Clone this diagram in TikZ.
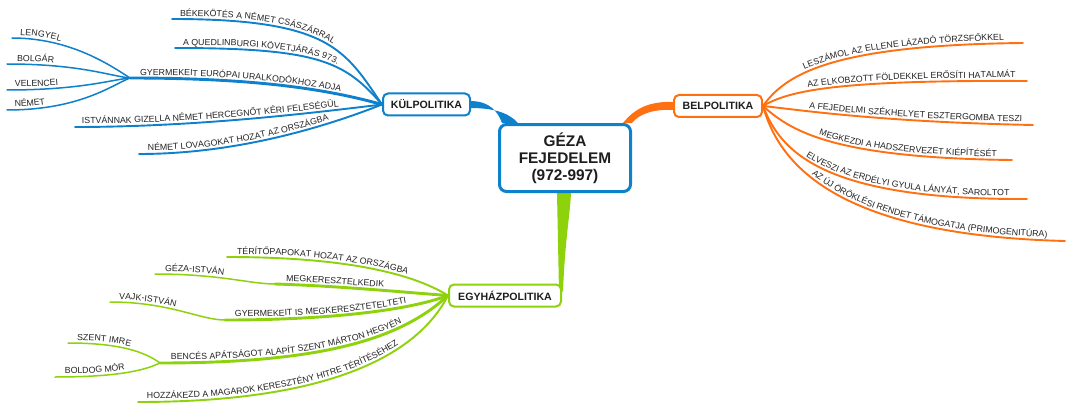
\documentclass[tikz,border=0pt]{standalone}
\usepackage{fontspec}
\setmainfont{Liberation Sans}
\usetikzlibrary{decorations.text,calc,backgrounds}
\definecolor{kblue}{RGB}{14,128,204}
\definecolor{korange}{RGB}{255,112,16}
\definecolor{kgreen}{RGB}{142,210,12}
\definecolor{ktext}{RGB}{30,30,30}
\definecolor{kbtext}{RGB}{35,35,35}
\newcommand\bt{\fontsize{8.8}{10}\selectfont\color{kbtext}}
\tikzset{
  topicbox/.style={draw=#1, line width=2pt, rounded corners=5pt, fill=white, text=ktext,
    font=\fontsize{10.6}{12}\selectfont\bfseries, minimum height=22pt, inner sep=0pt},
  brmain/.style={draw=#1, line width=1.9pt, line cap=round},
  brpar/.style={draw=#1, line width=2.9pt, line cap=round},
  brsub/.style={draw=#1, line width=1.5pt, line cap=round},
  lbl/.style 2 args={postaction={decorate, decoration={text along path, text={|\bt|#2},
    text align={left indent=#1}, raise=3pt}}},
}
\begin{document}
\begin{tikzpicture}[x=1pt,y=-1pt]
\useasboundingbox (0,0) rectangle (1072,412);
% nodes
\node[draw=kblue, line width=3pt, rounded corners=7pt, fill=white, text=ktext,
  font=\fontsize{15.4}{17}\selectfont\bfseries, align=center,
  minimum width=131pt, minimum height=67pt, inner sep=0pt] (geza) at (565,158) {GÉZA\\FEJEDELEM\\(972-997)};
\node[topicbox=kblue, minimum width=87pt] (kul) at (426.5,104.5) {KÜLPOLITIKA};
\node[topicbox=korange, minimum width=88pt] (bel) at (718,106) {BELPOLITIKA};
\node[topicbox=kgreen, minimum width=112pt] (egy) at (505,295.5) {EGYHÁZPOLITIKA};
% free ends
\coordinate (k1) at (172,19);
\coordinate (k2) at (175,48);
\coordinate (k3) at (130,78);
\coordinate (k4) at (75,127);
\coordinate (k5) at (139,154);
\coordinate (k31) at (12,38);
\coordinate (k32) at (7,64);
\coordinate (k33) at (7,90);
\coordinate (k34) at (7,110);
\coordinate (b1) at (1023,43);
\coordinate (b2) at (1027,81);
\coordinate (b3) at (1033,125);
\coordinate (b4) at (1012,160);
\coordinate (b5) at (1027,199);
\coordinate (b6) at (1065,241);
\coordinate (e1) at (227,257);
\coordinate (e2) at (275,284);
\coordinate (e21) at (155,274);
\coordinate (e3) at (225,320);
\coordinate (e31) at (110,302);
\coordinate (e4) at (160,363);
\coordinate (e41) at (68,343);
\coordinate (e42) at (55,377);
\coordinate (e5) at (138,402);
\begin{scope}[on background layer]
\fill[white] (0,0) rectangle (1072,412);
% tapered main connectors
\fill[kblue] ($(kul.east)+(-1,-3.5)$) .. controls (490,101) and (498,112) .. ($(geza.north west)+(4,0)$)
  -- ($(geza.north west)+(20,0)$) .. controls (508,112) and (492,108) .. ($(kul.east)+(-1,3.5)$) -- cycle;
\fill[korange] ($(geza.north east)+(-9,0)$) .. controls (635,108) and (650,101) .. ($(bel.west)+(1,-4)$)
  -- ($(bel.west)+(1,4)$) .. controls (655,109) and (640,113) .. ($(geza.north east)+(0,0)$) -- cycle;
\fill[kgreen] ($(geza.south)+(-8,0)$) -- ($(egy.north east)+(-3,8)$) -- ($(egy.north east)+(1,8)$)
  .. controls (565,240) and (570,215) .. ($(geza.south)+(6,0)$) -- cycle;
% KÜLPOLITIKA branches
\draw[brmain=kblue, lbl={8pt}{BÉKEKÖTÉS A NÉMET CSÁSZÁRRAL}] (k1) .. controls (330,19) and (345,50) .. (kul.west);
\draw[brmain=kblue, lbl={8pt}{A QUEDLINBURGI KÖVETJÁRÁS 973.}] (k2) .. controls (320,48) and (345,62) .. (kul.west);
\draw[brpar=kblue, lbl={10pt}{GYERMEKEIT EURÓPAI URALKODÓKHOZ ADJA}] (k3) .. controls (260,78) and (330,90) .. (kul.west);
\draw[brmain=kblue, lbl={7pt}{ISTVÁNNAK GIZELLA NÉMET HERCEGNŐT KÉRI FELESÉGÜL}] (k4) .. controls (200,127) and (320,112) .. (kul.west);
\draw[brmain=kblue, lbl={9pt}{NÉMET LOVAGOKAT HOZAT AZ ORSZÁGBA}] (k5) .. controls (240,154) and (330,125) .. (kul.west);
\draw[brsub=kblue, lbl={8pt}{LENGYEL}] (k31) .. controls (70,38) and (110,65) .. (k3);
\draw[brsub=kblue, lbl={10pt}{BOLGÁR}] (k32) .. controls (80,64) and (110,76) .. (k3);
\draw[brsub=kblue, lbl={8pt}{VELENCEI}] (k33) .. controls (80,90) and (110,80) .. (k3);
\draw[brsub=kblue, lbl={8pt}{NÉMET}] (k34) .. controls (80,110) and (112,85) .. (k3);
% BELPOLITIKA branches
\draw[brmain=korange, lbl={55pt}{LESZÁMOL AZ ELLENE LÁZADÓ TÖRZSFŐKKEL}] (bel.east) .. controls (785,75) and (830,45) .. (b1);
\draw[brmain=korange, lbl={48pt}{AZ ELKOBZOTT FÖLDEKKEL ERŐSÍTI HATALMÁT}] (bel.east) .. controls (790,90) and (840,80) .. (b2);
\draw[brmain=korange, lbl={46pt}{A FEJEDELMI SZÉKHELYET ESZTERGOMBA TESZI}] (bel.east) .. controls (800,110) and (880,122) .. (b3);
\draw[brmain=korange, lbl={64pt}{MEGKEZDI A HADSZERVEZET KIÉPÍTÉSÉT}] (bel.east) .. controls (790,130) and (830,158) .. (b4);
\draw[brmain=korange, lbl={68pt}{ELVESZI AZ ERDÉLYI GYULA LÁNYÁT, SAROLTOT}] (bel.east) .. controls (780,150) and (820,200) .. (b5);
\draw[brmain=korange, lbl={86pt}{AZ ÚJ ÖRÖKLÉSI RENDET TÁMOGATJA (PRIMOGENITÚRA)}] (bel.east) .. controls (778,160) and (830,235) .. (b6);
% EGYHÁZPOLITIKA branches
\draw[brmain=kgreen, lbl={10pt}{TÉRÍTŐPAPOKAT HOZAT AZ ORSZÁGBA}] (e1) .. controls (340,257) and (410,272) .. (egy.west);
\draw[brpar=kgreen, lbl={11pt}{MEGKERESZTELKEDIK}] (e2) .. controls (340,286) and (400,292) .. (egy.west);
\draw[brsub=kgreen, lbl={10pt}{GÉZA-ISTVÁN}] (e21) .. controls (220,274) and (250,284) .. (e2);
\draw[brpar=kgreen, lbl={10pt}{GYERMEKEIT IS MEGKERESZTETELTETI}] (e3) .. controls (330,320) and (410,310) .. (egy.west);
\draw[brsub=kgreen, lbl={9pt}{VAJK-ISTVÁN}] (e31) .. controls (170,302) and (200,320) .. (e3);
\draw[brpar=kgreen, lbl={11pt}{BENCÉS APÁTSÁGOT ALAPÍT SZENT MÁRTON HEGYÉN}] (e4) .. controls (320,363) and (400,340) .. (egy.west);
\draw[brsub=kgreen, lbl={9pt}{SZENT IMRE}] (e41) .. controls (120,343) and (145,352) .. (e4);
\draw[brsub=kgreen, lbl={10pt}{BOLDOG MÓR}] (e42) .. controls (120,377) and (145,370) .. (e4);
\draw[brmain=kgreen, lbl={9pt}{HOZZÁKEZD A MAGAROK KERESZTÉNY HITRE TÉRÍTÉSÉHEZ}] (e5) .. controls (340,402) and (420,350) .. (egy.west);
\end{scope}
\end{tikzpicture}
\end{document}
